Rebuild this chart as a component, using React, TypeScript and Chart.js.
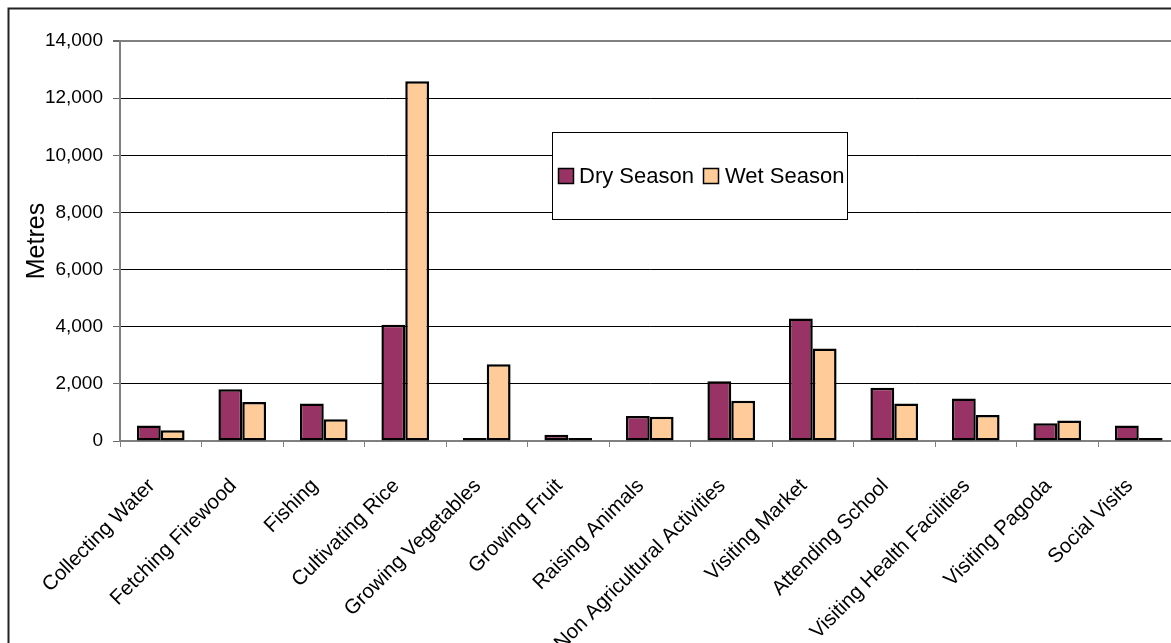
import React, { useEffect, useRef } from "react";
import { Chart, registerables } from "chart.js";

Chart.register(...registerables);

const categories = [
  "Collecting Water",
  "Fetching Firewood",
  "Fishing",
  "Cultivating Rice",
  "Growing Vegetables",
  "Growing Fruit",
  "Raising Animals",
  "Non Agricultural Activities",
  "Visiting Market",
  "Attending School",
  "Visiting Health Facilities",
  "Visiting Pagoda",
  "Social Visits",
];
const drySeason = [540, 1810, 1310, 4070, 50, 220, 875, 2095, 4290, 1860, 1485, 620, 540];
const wetSeason = [375, 1365, 760, 12590, 2690, 40, 845, 1405, 3240, 1310, 910, 715, 60];
const yMin = 0;
const yMax = 14000;
const yStep = 2000;
const seriesNames = ["Dry Season", "Wet Season"];
const axisTitle = "Metres";

const FONT = "'Liberation Sans', Arial, sans-serif";
const DRY = "#993366";
const WET = "#FFCC99";

const framePlugin = {
  id: "frame",
  beforeDraw(chart: any) {
    const ctx = chart.ctx;
    ctx.save();
    ctx.fillStyle = "#fff";
    ctx.fillRect(0, 0, chart.width, chart.height);
    ctx.strokeStyle = "#222";
    ctx.lineWidth = 2;
    ctx.strokeRect(8.5, 8.5, chart.width, chart.height);
    ctx.restore();
  },
};

const legendBoxPlugin = {
  id: "legendBox",
  afterDraw(chart: any) {
    const ctx = chart.ctx;
    const bx = 552.5, by = 132.5, bw = 295, bh = 87;
    ctx.save();
    ctx.fillStyle = "#fff";
    ctx.fillRect(bx, by, bw, bh);
    ctx.strokeStyle = "#000";
    ctx.lineWidth = 1;
    ctx.strokeRect(bx, by, bw, bh);
    const items = chart.data.datasets;
    const sw = [558.5, 703.5];
    const tx = [579, 725];
    ctx.font = `22px ${FONT}`;
    ctx.textBaseline = "middle";
    ctx.textAlign = "left";
    items.forEach((ds: any, i: number) => {
      ctx.fillStyle = ds.backgroundColor;
      ctx.fillRect(sw[i], 168.5, 15, 15);
      ctx.strokeStyle = "#000";
      ctx.lineWidth = 1.5;
      ctx.strokeRect(sw[i], 168.5, 15, 15);
      ctx.fillStyle = "#000";
      ctx.fillText(ds.label, tx[i], 177);
    });
    ctx.restore();
  },
};

export default function App() {
  const ref = useRef<HTMLCanvasElement>(null);
  useEffect(() => {
    if (!ref.current) return;
    const common = {
      borderColor: "#000",
      borderWidth: 2.5,
      borderSkipped: false,
      categoryPercentage: 0.585,
      barPercentage: 1,
      minBarLength: 3,
    };
    const chart = new Chart(ref.current, {
      type: "bar",
      data: {
        labels: categories,
        datasets: [
          { label: seriesNames[0], data: drySeason, backgroundColor: DRY, ...common },
          { label: seriesNames[1], data: wetSeason, backgroundColor: WET, ...common },
        ],
      },
      plugins: [framePlugin, legendBoxPlugin],
      options: {
        animation: false,
        responsive: false,
        maintainAspectRatio: false,
        devicePixelRatio: 1,
        layout: { padding: { top: 41, left: 8, right: 30.5, bottom: 0 } },
        plugins: {
          legend: { display: false },
          tooltip: { enabled: false },
        },
        scales: {
          x: {
            afterFit: (s: any) => {
              s.height = 680 - 441;
            },
            grid: {
              display: true,
              drawOnChartArea: false,
              drawTicks: true,
              tickLength: 6,
              color: "#808080",
              offset: true,
            },
            border: { display: true, color: "#808080", width: 1.5 },
            ticks: {
              autoSkip: false,
              maxRotation: 45,
              minRotation: 45,
              padding: 27,
              labelOffset: -9,
              color: "#000",
              font: { family: FONT, size: 20.5 },
            },
          },
          y: {
            min: yMin,
            max: yMax,
            afterFit: (s: any) => {
              s.width = 112;
            },
            afterBuildTicks: (s: any) => {
              const t = [];
              for (let v = yMin; v <= yMax; v += yStep) t.push({ value: v });
              s.ticks = t;
            },
            grid: {
              color: (c: any) => (c.tick && (c.tick.value === yMax || c.tick.value === yMin) ? "#808080" : "#000"),
              lineWidth: (c: any) => (c.tick && c.tick.value === yMax ? 2 : 1),
              tickColor: "#666",
              tickLength: 7,
            },
            border: { display: true, color: "#808080", width: 2 },
            ticks: {
              padding: 10,
              color: "#000",
              font: { family: FONT, size: 19 },
              callback: (v: any) => Number(v).toLocaleString("en-US"),
            },
            title: {
              display: true,
              text: axisTitle,
              color: "#000",
              font: { family: FONT, size: 25 },
              padding: { top: 14, bottom: 0 },
            },
          },
        },
      },
    });
    return () => chart.destroy();
  }, []);
  return (
    <div style={{ position: "fixed", left: 0, top: 0, width: "100vw", height: "100vh", overflow: "hidden", background: "#fff" }}>
      <canvas ref={ref} width={1210} height={680} style={{ display: "block", width: 1210, height: 680 }} />
    </div>
  );
}
